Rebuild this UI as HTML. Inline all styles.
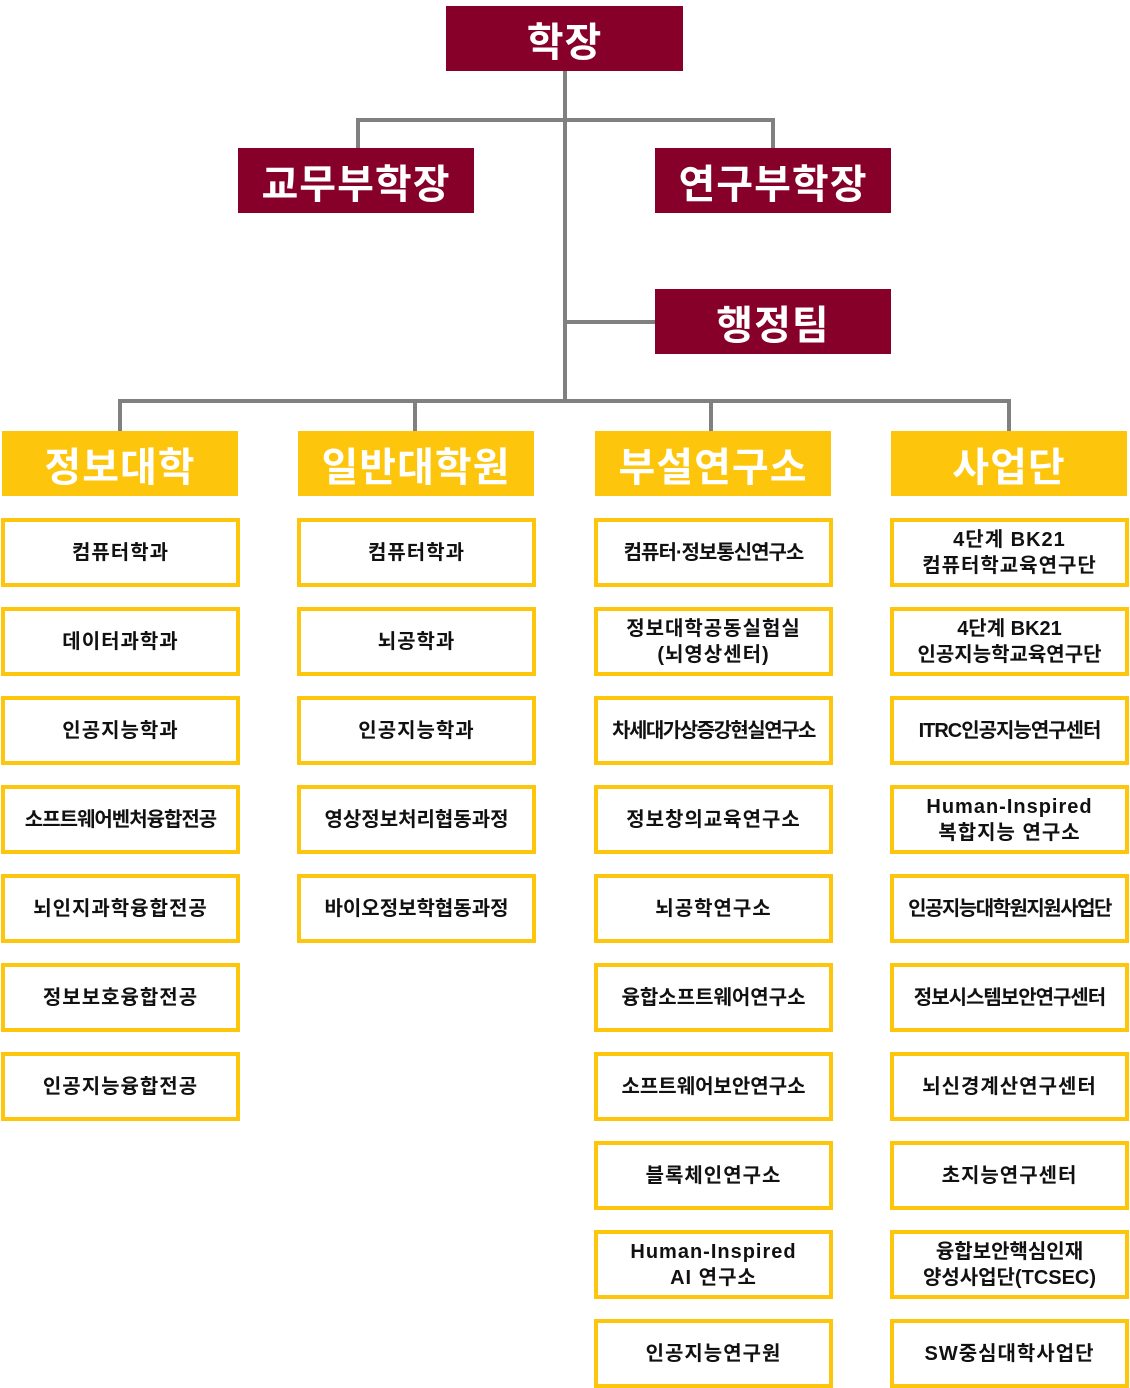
<!DOCTYPE html>
<html><head><meta charset="utf-8"><style>
body{margin:0;width:1130px;height:1388px;background:#fff;position:relative;overflow:hidden;font-family:"Liberation Sans","Noto Sans CJK KR",sans-serif;}
.b{position:absolute;display:flex;align-items:center;justify-content:center;text-align:center;font-weight:bold;box-sizing:border-box}
.r{background:#86002a;color:#fff;font-size:40px;width:236px;height:65px;letter-spacing:1px}
.y{background:#fdc50b;color:#fff;font-size:40px;width:236px;height:65px;letter-spacing:1px}
.i{border:4px solid #fdc50b;background:#fff;color:#111;font-size:20px;width:239px;height:69px;line-height:1.3;letter-spacing:1px}
.l{position:absolute;background:#808080}
</style></head><body>
<div class="l" style="left:563px;top:71px;width:4px;height:332px"></div>
<div class="l" style="left:356px;top:118px;width:419px;height:4px"></div>
<div class="l" style="left:356px;top:118px;width:4px;height:30px"></div>
<div class="l" style="left:771px;top:118px;width:4px;height:30px"></div>
<div class="l" style="left:563px;top:320px;width:92px;height:4px"></div>
<div class="l" style="left:118px;top:399px;width:893px;height:4px"></div>
<div class="l" style="left:118px;top:399px;width:4px;height:32px"></div>
<div class="l" style="left:413px;top:399px;width:4px;height:32px"></div>
<div class="l" style="left:709px;top:399px;width:4px;height:32px"></div>
<div class="l" style="left:1007px;top:399px;width:4px;height:32px"></div>

<div class="b r" style="left:446px;top:6px;width:237px">학장</div>
<div class="b r" style="left:238px;top:148px">교무부학장</div>
<div class="b r" style="left:655px;top:148px">연구부학장</div>
<div class="b r" style="left:655px;top:289px">행정팀</div>

<div class="b y" style="left:2px;top:431px">정보대학</div>
<div class="b y" style="left:298px;top:431px">일반대학원</div>
<div class="b y" style="left:595px;top:431px">부설연구소</div>
<div class="b y" style="left:891px;top:431px">사업단</div>

<div class="b i" style="left:1px;top:518px">컴퓨터학과</div>
<div class="b i" style="left:1px;top:607px">데이터과학과</div>
<div class="b i" style="left:1px;top:696px">인공지능학과</div>
<div class="b i" style="left:1px;top:785px;letter-spacing:-1px">소프트웨어벤처융합전공</div>
<div class="b i" style="left:1px;top:874px">뇌인지과학융합전공</div>
<div class="b i" style="left:1px;top:963px">정보보호융합전공</div>
<div class="b i" style="left:1px;top:1052px">인공지능융합전공</div>

<div class="b i" style="left:297px;top:518px">컴퓨터학과</div>
<div class="b i" style="left:297px;top:607px">뇌공학과</div>
<div class="b i" style="left:297px;top:696px">인공지능학과</div>
<div class="b i" style="left:297px;top:785px;letter-spacing:0">영상정보처리협동과정</div>
<div class="b i" style="left:297px;top:874px;letter-spacing:0">바이오정보학협동과정</div>

<div class="b i" style="left:594px;top:518px;letter-spacing:-1px">컴퓨터·정보통신연구소</div>
<div class="b i" style="left:594px;top:607px">정보대학공동실험실<br>(뇌영상센터)</div>
<div class="b i" style="left:594px;top:696px;letter-spacing:-1.5px">차세대가상증강현실연구소</div>
<div class="b i" style="left:594px;top:785px">정보창의교육연구소</div>
<div class="b i" style="left:594px;top:874px">뇌공학연구소</div>
<div class="b i" style="left:594px;top:963px;letter-spacing:0">융합소프트웨어연구소</div>
<div class="b i" style="left:594px;top:1052px;letter-spacing:0">소프트웨어보안연구소</div>
<div class="b i" style="left:594px;top:1141px">블록체인연구소</div>
<div class="b i" style="left:594px;top:1230px">Human-Inspired<br>AI 연구소</div>
<div class="b i" style="left:594px;top:1319px">인공지능연구원</div>

<div class="b i" style="left:890px;top:518px">4단계 BK21<br>컴퓨터학교육연구단</div>
<div class="b i" style="left:890px;top:607px;letter-spacing:0">4단계 BK21<br>인공지능학교육연구단</div>
<div class="b i" style="left:890px;top:696px;letter-spacing:-1px">ITRC인공지능연구센터</div>
<div class="b i" style="left:890px;top:785px">Human-Inspired<br>복합지능 연구소</div>
<div class="b i" style="left:890px;top:874px;letter-spacing:-1.5px">인공지능대학원지원사업단</div>
<div class="b i" style="left:890px;top:963px;letter-spacing:-1px">정보시스템보안연구센터</div>
<div class="b i" style="left:890px;top:1052px">뇌신경계산연구센터</div>
<div class="b i" style="left:890px;top:1141px">초지능연구센터</div>
<div class="b i" style="left:890px;top:1230px;letter-spacing:0">융합보안핵심인재<br>양성사업단(TCSEC)</div>
<div class="b i" style="left:890px;top:1319px">SW중심대학사업단</div>
</body></html>
